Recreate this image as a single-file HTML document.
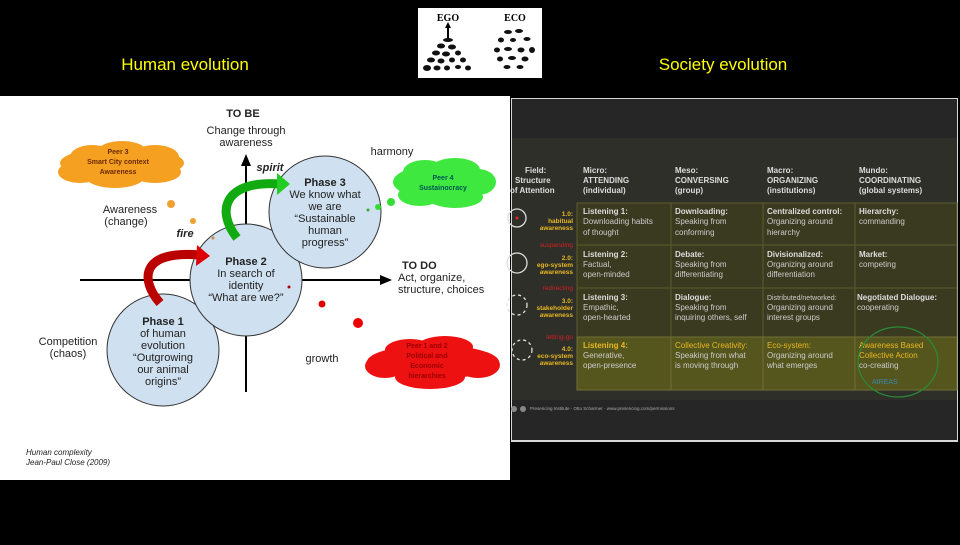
<!DOCTYPE html>
<html><head><meta charset="utf-8"><style>
body{margin:0;background:#000;width:960px;height:540px;overflow:hidden;font-family:"Liberation Sans",sans-serif}
</style></head><body>
<svg width="960" height="540" viewBox="0 0 960 540" xmlns="http://www.w3.org/2000/svg" font-family="Liberation Sans, sans-serif">
<rect width="960" height="540" fill="#000"/>
<text x="185" y="70" fill="#ffff00" font-size="17" text-anchor="middle">Human evolution</text>
<text x="723" y="70" fill="#ffff00" font-size="17" text-anchor="middle">Society evolution</text>
<!-- ego eco -->
<rect x="418" y="8" width="124" height="70" fill="#fff"/>
<text x="448" y="21" font-family="Liberation Serif,serif" font-weight="bold" font-size="10" text-anchor="middle">EGO</text>
<text x="515" y="21" font-family="Liberation Serif,serif" font-weight="bold" font-size="10" text-anchor="middle">ECO</text>
<path d="M448 24 L448 38" stroke="#000" stroke-width="2"/>
<polygon points="448,22 445,28 451,28" fill="#000"/>
<g fill="#111">
<ellipse cx="448" cy="40" rx="5" ry="2"/>
<ellipse cx="441" cy="46" rx="4" ry="2.5"/><ellipse cx="452" cy="47" rx="4" ry="2.5"/>
<ellipse cx="436" cy="53" rx="4" ry="2.5"/><ellipse cx="446" cy="54" rx="4" ry="2.5"/><ellipse cx="458" cy="53" rx="3" ry="2.5"/>
<ellipse cx="431" cy="60" rx="4" ry="2.5"/><ellipse cx="441" cy="61" rx="3.5" ry="2.5"/><ellipse cx="452" cy="60" rx="3" ry="2.5"/><ellipse cx="463" cy="60" rx="3" ry="2.5"/>
<ellipse cx="427" cy="68" rx="4" ry="3"/><ellipse cx="437" cy="68" rx="3.5" ry="2.5"/><ellipse cx="447" cy="68" rx="3" ry="2.5"/><ellipse cx="458" cy="67" rx="3" ry="2"/><ellipse cx="468" cy="68" rx="3" ry="2.5"/>
<ellipse cx="508" cy="32" rx="4" ry="2"/><ellipse cx="519" cy="31" rx="4" ry="2"/><ellipse cx="501" cy="40" rx="3" ry="2.5"/><ellipse cx="513" cy="40" rx="3" ry="2"/><ellipse cx="527" cy="39" rx="3.5" ry="2"/>
<ellipse cx="497" cy="50" rx="3" ry="2.5"/><ellipse cx="508" cy="49" rx="4" ry="2"/><ellipse cx="521" cy="50" rx="3.5" ry="2.5"/><ellipse cx="532" cy="50" rx="3" ry="3"/>
<ellipse cx="500" cy="59" rx="3" ry="2.5"/><ellipse cx="512" cy="58" rx="4" ry="2"/><ellipse cx="525" cy="59" rx="3.5" ry="2.5"/>
<ellipse cx="507" cy="67" rx="3.5" ry="2"/><ellipse cx="520" cy="67" rx="3.5" ry="2"/>
</g>
<!-- left panel -->
<rect x="0" y="96" width="510" height="384" fill="#fff"/>
<line x1="80" y1="280" x2="383" y2="280" stroke="#000" stroke-width="2"/>
<polygon points="392,280 380,275 380,285" fill="#000"/>
<line x1="246" y1="392" x2="246" y2="162" stroke="#000" stroke-width="2"/>
<polygon points="246,154 241,166 251,166" fill="#000"/>
<g stroke="#333" stroke-width="1" fill="#cfe0f0">
<circle cx="163" cy="350" r="56"/>
<circle cx="246" cy="280" r="56"/>
<circle cx="325" cy="212" r="56"/>
</g>
<path d="M160 303 C140 280 140 250 200 255" stroke="#b00" stroke-width="9" fill="none"/>
<polygon points="210,256 197,245 196,266" fill="#d00"/>
<path d="M237 238 C215 210 225 180 280 184" stroke="#1a1" stroke-width="9" fill="none"/>
<polygon points="290,184 277,173 277,195" fill="#2c2"/>
<g font-size="11" text-anchor="middle" fill="#222">
<text x="243" y="117" font-weight="bold">TO BE</text>
<text x="246" y="134">Change through</text><text x="246" y="146">awareness</text>
<text x="163" y="325" font-weight="bold">Phase 1</text>
<text x="163" y="337">of human</text><text x="163" y="349">evolution</text>
<text x="163" y="361">“Outgrowing</text><text x="163" y="373">our animal</text><text x="163" y="385">origins”</text>
<text x="246" y="265" font-weight="bold">Phase 2</text>
<text x="246" y="277">In search of</text><text x="246" y="289">identity</text><text x="246" y="301">“What are we?”</text>
<text x="325" y="186" font-weight="bold">Phase 3</text>
<text x="325" y="198">We know what</text><text x="325" y="210">we are</text>
<text x="325" y="222">“Sustainable</text><text x="325" y="234">human</text><text x="325" y="246">progress”</text>
<text x="68" y="345">Competition</text><text x="68" y="357">(chaos)</text>
<text x="130" y="213">Awareness</text><text x="126" y="225">(change)</text>
<text x="392" y="155">harmony</text>
<text x="322" y="362">growth</text>
<text x="185" y="237" font-style="italic" font-weight="bold">fire</text>
<text x="270" y="171" font-style="italic" font-weight="bold">spirit</text>
</g>
<g font-size="11" fill="#222"><text x="402" y="269" font-weight="bold">TO DO</text>
<text x="398" y="281">Act, organize,</text><text x="398" y="293">structure, choices</text></g>
<g font-size="8" font-style="italic" fill="#222"><text x="26" y="455">Human complexity</text><text x="26" y="465">Jean-Paul Close (2009)</text></g>
<!-- clouds -->
<g fill="#f5a020">
<ellipse cx="122" cy="163" rx="62" ry="16"/><ellipse cx="92" cy="157" rx="22" ry="12"/><ellipse cx="122" cy="152" rx="25" ry="11"/><ellipse cx="155" cy="157" rx="24" ry="12"/>
<ellipse cx="80" cy="172" rx="22" ry="11"/><ellipse cx="115" cy="176" rx="30" ry="12"/><ellipse cx="155" cy="172" rx="26" ry="11"/>
</g>
<g font-size="7" font-weight="bold" text-anchor="middle" fill="#6a2a00"><text x="118" y="154">Peer 3</text><text x="118" y="164">Smart City context</text><text x="118" y="174">Awareness</text></g>
<circle cx="171" cy="204" r="4" fill="#f0a030"/><circle cx="193" cy="221" r="3" fill="#f0a030"/><circle cx="213" cy="238" r="1.5" fill="#c84"/>
<g fill="#3ee83e">
<ellipse cx="443" cy="182" rx="50" ry="18"/><ellipse cx="425" cy="172" rx="22" ry="12"/><ellipse cx="455" cy="170" rx="25" ry="12"/><ellipse cx="478" cy="182" rx="18" ry="13"/>
<ellipse cx="420" cy="195" rx="22" ry="11"/><ellipse cx="455" cy="197" rx="28" ry="11"/>
</g>
<g font-size="7" font-weight="bold" text-anchor="middle" fill="#055"><text x="443" y="180">Peer 4</text><text x="443" y="190">Sustainocracy</text></g>
<circle cx="391" cy="202" r="4" fill="#3d3"/><circle cx="378" cy="207" r="3" fill="#3d3"/><circle cx="368" cy="210" r="1.5" fill="#3a3"/>
<g fill="#ee1111">
<ellipse cx="433" cy="362" rx="66" ry="17"/><ellipse cx="410" cy="350" rx="25" ry="11"/><ellipse cx="445" cy="347" rx="28" ry="11"/>
<ellipse cx="385" cy="366" rx="20" ry="12"/><ellipse cx="478" cy="365" rx="22" ry="13"/><ellipse cx="430" cy="377" rx="35" ry="12"/>
</g>
<g font-size="7" font-weight="bold" text-anchor="middle" fill="#900"><text x="427" y="348">Peer 1 and 2</text><text x="427" y="358">Political and</text><text x="427" y="368">Economic</text><text x="427" y="378">hierarchies</text></g>
<circle cx="358" cy="323" r="5" fill="#e00"/><circle cx="322" cy="304" r="3.5" fill="#d00"/><circle cx="289" cy="287" r="1.5" fill="#a00"/>
<!-- right panel -->
<rect x="511" y="98" width="447" height="344" fill="#d8d8d8"/>
<rect x="512" y="99" width="445" height="341" fill="#262626"/>
<rect x="512" y="138" width="445" height="262" fill="#2f2f2a"/>
<g fill="#3a3a20" stroke="#5c5c30" stroke-width="1">
<rect x="577" y="203" width="94" height="42"/><rect x="671" y="203" width="92" height="42"/><rect x="763" y="203" width="92" height="42"/><rect x="855" y="203" width="102" height="42"/>
<rect x="577" y="245" width="94" height="43"/><rect x="671" y="245" width="92" height="43"/><rect x="763" y="245" width="92" height="43"/><rect x="855" y="245" width="102" height="43"/>
<rect x="577" y="288" width="94" height="49"/><rect x="671" y="288" width="92" height="49"/><rect x="763" y="288" width="92" height="49"/><rect x="855" y="288" width="102" height="49"/>
</g>
<g fill="#55551e" stroke="#707035" stroke-width="1">
<rect x="577" y="337" width="94" height="53"/><rect x="671" y="337" width="92" height="53"/><rect x="763" y="337" width="92" height="53"/><rect x="855" y="337" width="102" height="53"/>
</g>
<g font-size="8" fill="#ddd" font-weight="bold">
<text x="525" y="173">Field:</text><text x="515" y="183">Structure</text><text x="510" y="193">of Attention</text>
<text x="583" y="173">Micro:</text><text x="583" y="183">ATTENDING</text><text x="583" y="193">(individual)</text>
<text x="675" y="173">Meso:</text><text x="675" y="183">CONVERSING</text><text x="675" y="193">(group)</text>
<text x="767" y="173">Macro:</text><text x="767" y="183">ORGANIZING</text><text x="767" y="193">(institutions)</text>
<text x="859" y="173">Mundo:</text><text x="859" y="183">COORDINATING</text><text x="859" y="193">(global systems)</text>
<text x="583" y="214">Listening 1:</text><text x="675" y="214">Downloading:</text><text x="767" y="214">Centralized control:</text><text x="859" y="214">Hierarchy:</text>
<text x="583" y="257">Listening 2:</text><text x="675" y="257">Debate:</text><text x="767" y="257">Divisionalized:</text><text x="859" y="257">Market:</text>
<text x="583" y="300">Listening 3:</text><text x="675" y="300">Dialogue:</text><text x="857" y="300">Negotiated Dialogue:</text>
</g>
<g font-size="8" fill="#ccc">
<text x="583" y="224">Downloading habits</text><text x="583" y="235">of thought</text>
<text x="675" y="224">Speaking from</text><text x="675" y="235">conforming</text>
<text x="767" y="224">Organizing around</text><text x="767" y="235">hierarchy</text>
<text x="859" y="224">commanding</text>
<text x="583" y="267">Factual,</text><text x="583" y="277">open-minded</text>
<text x="675" y="267">Speaking from</text><text x="675" y="277">differentiating</text>
<text x="767" y="267">Organizing around</text><text x="767" y="277">differentiation</text>
<text x="859" y="267">competing</text>
<text x="583" y="310">Empathic,</text><text x="583" y="320">open-hearted</text>
<text x="675" y="310">Speaking from</text><text x="675" y="320">inquiring others, self</text>
<text x="767" y="300" font-size="7">Distributed/networked:</text><text x="767" y="310">Organizing around</text><text x="767" y="320">interest groups</text>
<text x="857" y="310">cooperating</text>
<text x="583" y="358">Generative,</text><text x="583" y="368">open-presence</text>
<text x="675" y="358">Speaking from what</text><text x="675" y="368">is moving through</text>
<text x="767" y="358">Organizing around</text><text x="767" y="368">what emerges</text>
<text x="859" y="368">co-creating</text>
</g>
<g font-size="8" fill="#e8b820">
<text x="583" y="348" font-weight="bold">Listening 4:</text><text x="675" y="348">Collective Creativity:</text><text x="767" y="348">Eco-system:</text>
<text x="859" y="348">Awareness Based</text><text x="859" y="358">Collective Action</text>
</g>
<text x="872" y="384" font-size="7" fill="#3a8ab0">AIREAS</text>
<ellipse cx="898" cy="362" rx="40" ry="35" fill="none" stroke="#2a8a3a" stroke-width="1.2"/>
<g font-size="6.5" text-anchor="end" fill="#e8b820" font-weight="bold">
<text x="573" y="216">1.0:</text><text x="573" y="223">habitual</text><text x="573" y="230">awareness</text>
<text x="573" y="260">2.0:</text><text x="573" y="267">ego-system</text><text x="573" y="274">awareness</text>
<text x="573" y="303">3.0:</text><text x="573" y="310">stakeholder</text><text x="573" y="317">awareness</text>
<text x="573" y="351">4.0:</text><text x="573" y="358">eco-system</text><text x="573" y="365">awareness</text>
</g>
<g font-size="6.5" text-anchor="end" fill="#d02020"><text x="573" y="247">suspending</text><text x="573" y="290">redirecting</text><text x="573" y="339">letting-go</text></g>
<g fill="none" stroke="#ddd" stroke-width="1.3">
<circle cx="517" cy="218" r="9"/><circle cx="517" cy="263" r="10"/>
<circle cx="517" cy="305" r="10" stroke-dasharray="3,3"/><circle cx="522" cy="350" r="10" stroke-dasharray="3,3"/>
</g>
<circle cx="517" cy="218" r="1.5" fill="#d22"/>
<text x="530" y="410" font-size="4.5" fill="#aaa">Presencing Institute · Otto Scharmer · www.presencing.com/permissions</text>
<circle cx="514" cy="409" r="3" fill="#888"/><circle cx="523" cy="409" r="3" fill="#888"/>
</svg>
</body></html>
